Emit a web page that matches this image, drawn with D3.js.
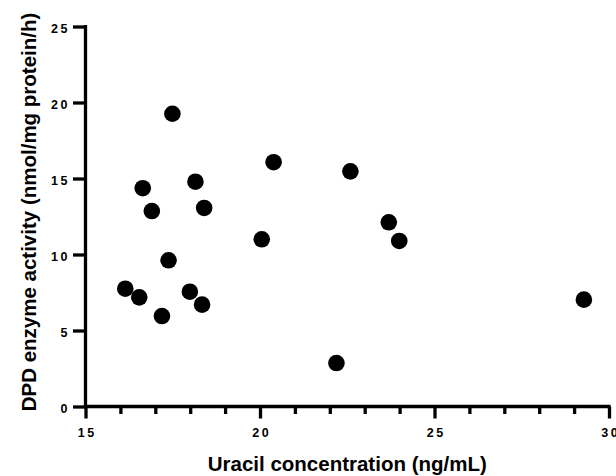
<!DOCTYPE html>
<html>
<head>
<meta charset="utf-8">
<script src="https://cdn.jsdelivr.net/npm/d3@7"></script>
<style>
  html, body { margin: 0; padding: 0; background: #fff; }
  svg { display: block; }
  .tick text { font-family: "Liberation Sans", Arial, sans-serif; font-weight: bold; font-size: 12.5px; letter-spacing: 2.5px; fill: #000; }
  .title { font-family: "Liberation Sans", Arial, sans-serif; font-weight: bold; font-size: 20.5px; fill: #000; }
</style>
</head>
<body>
<svg id="chart" width="616" height="476"></svg>
<script>
// Uracil concentration (ng/mL) and DPD enzyme activity (nmol/mg protein/h) per patient
const uracil = [17.49, 16.64, 16.90, 18.15, 18.40, 20.39, 20.05, 22.59, 23.69, 23.99, 29.28, 22.19, 16.14, 16.54, 17.38, 17.19, 17.99, 18.34];
const dpdActivity = [19.26, 14.36, 12.86, 14.79, 13.06, 16.07, 11.00, 15.47, 12.12, 10.89, 7.03, 2.86, 7.75, 7.18, 9.62, 5.95, 7.55, 6.70];

const xMajorTicks = [15, 20, 25, 30];
const xMinorTicks = [16, 17, 18, 19, 21, 22, 23, 24, 26, 27, 28, 29];
const yTicks = [0, 5, 10, 15, 20, 25];

const svg = d3.select("#chart");

const x = d3.scaleLinear().domain([15, 30]).range([85.5, 609]);
const y = d3.scaleLinear().domain([0, 25]).range([406.5, 26.5]);

const axisStroke = 3.3;

// minor x ticks (no labels)
const xMinor = svg.append("g")
  .attr("transform", `translate(0,${y(0)})`)
  .call(d3.axisBottom(x).tickValues(xMinorTicks).tickSize(7.5).tickFormat(""));
xMinor.select(".domain").remove();

// major x ticks with labels
const xAxis = svg.append("g")
  .attr("transform", `translate(0,${y(0)})`)
  .call(d3.axisBottom(x).tickValues(xMajorTicks).tickSize(12).tickSizeOuter(0).tickPadding(10).tickFormat(d3.format("d")));

// y axis
const yAxis = svg.append("g")
  .attr("transform", `translate(${x(15)},0)`)
  .call(d3.axisLeft(y).tickValues(yTicks).tickSize(12.5).tickSizeOuter(0).tickPadding(3).tickFormat(d3.format("d")));

[xMinor, xAxis, yAxis].forEach(g => {
  g.selectAll("line").attr("stroke", "#000").attr("stroke-width", axisStroke);
  g.selectAll(".domain").attr("stroke", "#000").attr("stroke-width", axisStroke);
});

// extend axis lines so the corners meet cleanly
xAxis.select(".domain").attr("d", `M${x(15) - 1.6},0H${x(30) + 1.6}`);
yAxis.select(".domain").attr("d", `M0,${y(0) + 1.6}V${y(25) - 1.6}`);

xAxis.selectAll(".tick text").attr("dx", "1.25px");
yAxis.selectAll(".tick text").attr("dy", "0.45em");

// points
svg.append("g")
  .selectAll("circle")
  .data(uracil.map((u, i) => [u, dpdActivity[i]]))
  .join("circle")
  .attr("cx", d => x(d[0]))
  .attr("cy", d => y(d[1]))
  .attr("r", 8.3)
  .attr("fill", "#000");

// axis titles
svg.append("text")
  .attr("class", "title")
  .attr("x", (x(15) + x(30)) / 2)
  .attr("y", 471)
  .attr("text-anchor", "middle")
  .text("Uracil concentration (ng/mL)");

svg.append("text")
  .attr("class", "title")
  .attr("transform", `translate(36,${212}) rotate(-90)`)
  .attr("text-anchor", "middle")
  .text("DPD enzyme activity (nmol/mg protein/h)");
</script>
</body>
</html>
